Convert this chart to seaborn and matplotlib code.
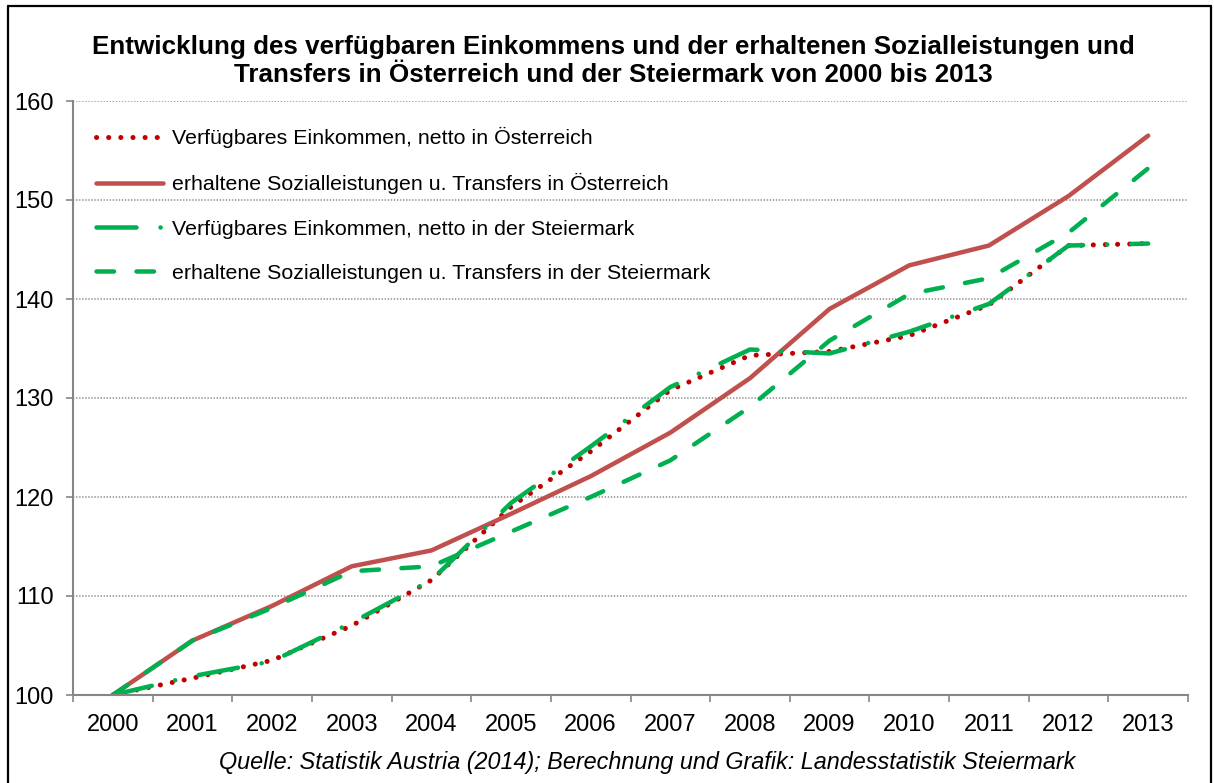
import matplotlib
matplotlib.use("Agg")
import matplotlib.pyplot as plt
from matplotlib.lines import Line2D
import seaborn as sns
import pandas as pd
import numpy as np

years = [2000, 2001, 2002, 2003, 2004, 2005, 2006, 2007, 2008, 2009, 2010, 2011, 2012, 2013]
verf_at = [100, 101.7, 103.5, 107.0, 111.6, 119.0, 124.6, 130.8, 134.3, 134.7, 136.3, 139.4, 145.4, 145.6]
soz_at = [100, 105.5, 109.0, 113.0, 114.6, 118.3, 122.1, 126.5, 132.0, 139.0, 143.4, 145.4, 150.4, 156.5]
verf_st = [100, 101.9, 103.4, 107.3, 111.6, 119.4, 125.1, 131.1, 134.9, 134.5, 136.7, 139.5, 145.4, 145.6]
soz_st = [100, 105.5, 108.8, 112.5, 113.0, 116.5, 120.0, 123.7, 129.1, 135.8, 140.5, 142.1, 146.7, 153.2]

labels = [
    "Verfügbares Einkommen, netto in Österreich",
    "erhaltene Sozialleistungen u. Transfers in Österreich",
    "Verfügbares Einkommen, netto in der Steiermark",
    "erhaltene Sozialleistungen u. Transfers in der Steiermark",
]
title = ("Entwicklung des verfügbaren Einkommens und der erhaltenen Sozialleistungen und\n"
         "Transfers in Österreich und der Steiermark von 2000 bis 2013")
source = "Quelle: Statistik Austria (2014); Berechnung und Grafik: Landesstatistik Steiermark"

sns.set_style("white")
plt.rcParams['font.family'] = ['Liberation Sans', 'DejaVu Sans']
plt.rcParams['lines.scale_dashes'] = False
plt.rcParams['text.color'] = 'black'
plt.rcParams['xtick.color'] = 'black'
plt.rcParams['ytick.color'] = 'black'

W, H = 1214, 783
fig = plt.figure(figsize=(W / 100, H / 100), dpi=100)
ax = fig.add_axes([73 / W, 1 - 695 / H, (1188 - 73) / W, (695 - 101) / H])

px = 0.72  # points per pixel
styles = [
    dict(color="#C00000", lw=5 * px, dashes=(0.1, 12 * px)),
    dict(color="#C0504D", lw=4.5 * px, dashes=None),
    dict(color="#00B050", lw=4.5 * px, dashes=(40 * px, 24 * px, 0.1, 24 * px)),
    dict(color="#00B050", lw=4.5 * px, dashes=(17.5 * px, 22.5 * px)),
]
series = [verf_at, soz_at, verf_st, soz_st]

handles = []
for vals, lab, st in zip(series, labels, styles):
    df = pd.DataFrame({"Jahr": years, "Wert": vals})
    sns.lineplot(data=df, x="Jahr", y="Wert", ax=ax, color=st["color"], lw=st["lw"], legend=False)
    line = ax.get_lines()[-1]
    line.set_solid_capstyle("round")
    line.set_dash_capstyle("round")
    line.set_solid_joinstyle("round")
    if st["dashes"] is not None:
        line.set_dashes(st["dashes"])
    h = Line2D([0], [0], color=st["color"], lw=st["lw"])
    h.set_solid_capstyle("round")
    h.set_dash_capstyle("round")
    if st["dashes"] is not None:
        h.set_dashes(st["dashes"])
    handles.append(h)

ax.set_xlim(1999.5, 2013.5)
ax.set_ylim(100, 160)
ax.set_yticks(np.arange(100, 161, 10))
ax.set_xticks(years)
ax.set_xticklabels([str(y) for y in years])
ax.set_xticks(np.arange(1999.5, 2014, 1), minor=True)
ax.set_xlabel("")
ax.set_ylabel("")

for y in range(110, 161, 10):
    ax.axhline(y, color="#8C8C8C", lw=1.1, linestyle=(0, (1, 1.2)), zorder=0)

grey = "#868686"
for s in ["top", "right"]:
    ax.spines[s].set_visible(False)
for s in ["left", "bottom"]:
    ax.spines[s].set_color(grey)
    ax.spines[s].set_linewidth(1.5)
ax.tick_params(axis="y", which="major", direction="out", length=5, width=1.2, color=grey,
               labelcolor="black", labelsize=17, pad=9, left=True)
ax.tick_params(axis="x", which="major", length=0, labelsize=17, pad=14, labelcolor="black")
ax.tick_params(axis="x", which="minor", direction="out", length=5, width=1.2, color=grey, bottom=True)

leg = ax.legend(handles, labels, loc="upper left", bbox_to_anchor=((96 - 73) / 1115, (695 - 127) / 594),
                frameon=False, fontsize=15.4, handlelength=3.15, handletextpad=0.42,
                labelspacing=1.18, borderpad=0, borderaxespad=0)
for t in leg.get_texts():
    t.set_color("black")

fig.text(613 / W, 1 - 61 / H, title, ha="center", va="center", fontsize=18.75,
         fontweight="bold", linespacing=1.2, color="black")
fig.text(647 / W, 1 - 762 / H, source, ha="center", va="center", fontsize=16.8, style="italic",
         color="black")

# chart border
for xs, ys in [((8, 8), (6, 790)), ((8, 1211), (6, 6)), ((1211, 1211), (6, 790))]:
    fig.add_artist(Line2D([x / W for x in xs], [1 - y / H for y in ys], color="black", lw=1.6,
                          transform=fig.transFigure))

fig.savefig("out.png", dpi=100)
